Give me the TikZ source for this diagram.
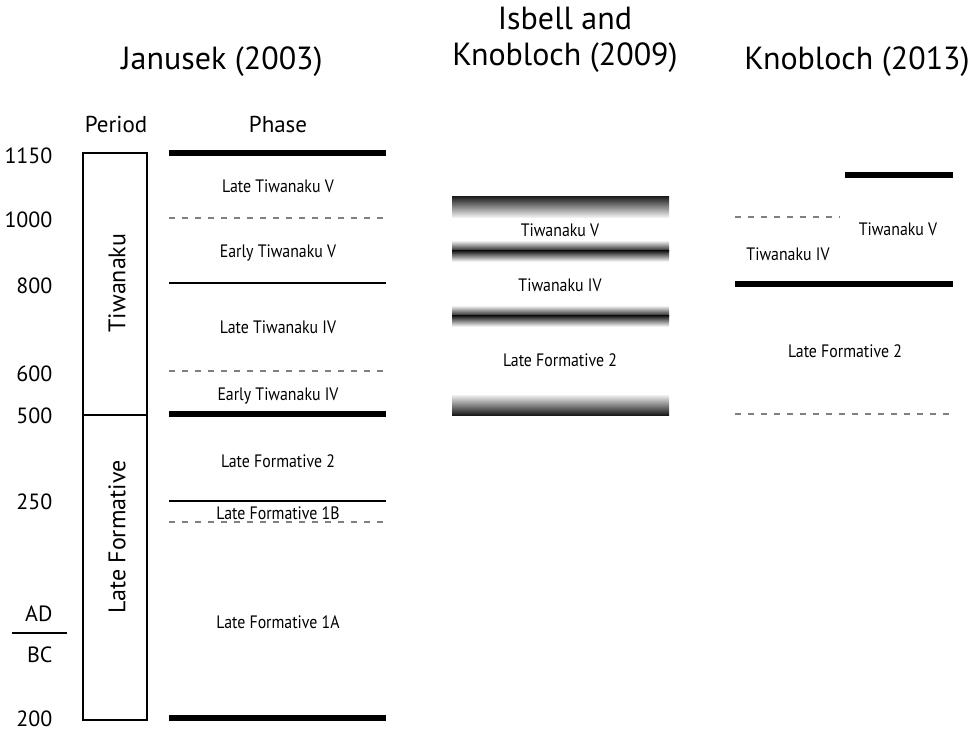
\documentclass[tikz,border=0pt]{standalone}
\usepackage{fontspec}
\setmainfont{PT Sans}
\newfontfamily\condfont[FakeStretch=0.88]{PT Sans}
\begin{document}
\begin{tikzpicture}[x=1pt,y=-1pt,
  title/.style={font=\fontsize{32}{36}\selectfont, align=center},
  colhead/.style={font=\fontsize{23}{26}\selectfont},
  yearlbl/.style={font=\fontsize{22}{24}\selectfont, anchor=east},
  phaselbl/.style={font=\condfont\fontsize{18}{20}\selectfont},
  periodlbl/.style={font=\fontsize{24}{26}\selectfont, rotate=90},
  thickline/.style={line width=6.5pt},
  midline/.style={line width=2.4pt},
  dashline/.style={line width=2pt, gray, dash pattern=on 6pt off 7pt}
]
\useasboundingbox (0,0) rectangle (975,734);
% titles
\node[title] (t1) at (222,62) {Janusek (2003)};
\node[title] (t2) at (565,40) {Isbell and\\Knobloch (2009)};
\node[title, inner xsep=0pt] (t3) at (857,62) {Knobloch (2013)};
\node[colhead] (hper) at (116,124) {Period};
\node[colhead] (hpha) at (278,124) {Phase};
% year labels
\node[yearlbl] (y1150) at (56,156) {1150};
\node[yearlbl] (y1000) at (56,220) {1000};
\node[yearlbl] (y800) at (56,286) {800};
\node[yearlbl] (y600) at (56,374) {600};
\node[yearlbl] (y500) at (56,416) {500};
\node[yearlbl] (y250) at (56,502) {250};
\node[yearlbl] (yad) at (56,614) {AD};
\node[yearlbl] (ybc) at (56,655) {BC};
\node[yearlbl] (y200) at (56,719) {200};
\draw[line width=2pt] (12,633) -- (67,633);
% period box
\draw[line width=2pt] (83,153) rectangle (147,720);
\draw[line width=2pt] (83,415) -- (147,415);
\node[periodlbl] (ptiw) at (117,283) {Tiwanaku};
\node[periodlbl] (plf) at (117,537) {Late Formative};
% phase lines
\draw[thickline] (169,153) -- (386,153);
\draw[dashline] (169,218) -- (386,218);
\draw[midline] (169,283) -- (386,283);
\draw[dashline] (169,371) -- (386,371);
\draw[thickline] (169,414) -- (386,414);
\draw[midline] (169,501) -- (386,501);
\draw[dashline] (169,522) -- (386,522);
\draw[thickline] (169,718) -- (386,718);
% phase labels
\node[phaselbl] (p1) at (278,186) {Late Tiwanaku V};
\node[phaselbl] (p2) at (278,253) {Early Tiwanaku V};
\node[phaselbl] (p3) at (278,327) {Late Tiwanaku IV};
\node[phaselbl] (p4) at (278,396) {Early Tiwanaku IV};
\node[phaselbl] (p5) at (278,461) {Late Formative 2};
\node[phaselbl] (p6) at (278,513) {Late Formative 1B};
\node[phaselbl] (p7) at (278,622) {Late Formative 1A};
% Isbell and Knobloch bands
\shade[top color=black!90, bottom color=gray!12] (452,196) rectangle (669,217);
\shade[top color=gray!12, bottom color=black!90] (452,241) rectangle (669,251.2);
\shade[top color=black!90, bottom color=gray!12] (452,250.8) rectangle (669,261);
\shade[top color=gray!12, bottom color=black!90] (452,306) rectangle (669,316.2);
\shade[top color=black!90, bottom color=gray!12] (452,315.8) rectangle (669,326);
\shade[top color=gray!12, bottom color=black!90] (452,395) rectangle (669,415);
\node[phaselbl] (i1) at (560,230) {Tiwanaku V};
\node[phaselbl] (i2) at (560,285) {Tiwanaku IV};
\node[phaselbl] (i3) at (560,360) {Late Formative 2};
% Knobloch 2013
\draw[thickline] (845,175) -- (953,175);
\draw[dashline] (735,217) -- (840,217);
\draw[thickline] (735,284) -- (953,284);
\draw[dashline] (735,414) -- (950,414);
\node[phaselbl] (k1) at (898,229) {Tiwanaku V};
\node[phaselbl] (k2) at (788,254) {Tiwanaku IV};
\node[phaselbl] (k3) at (845,351) {Late Formative 2};
\end{tikzpicture}
\end{document}
